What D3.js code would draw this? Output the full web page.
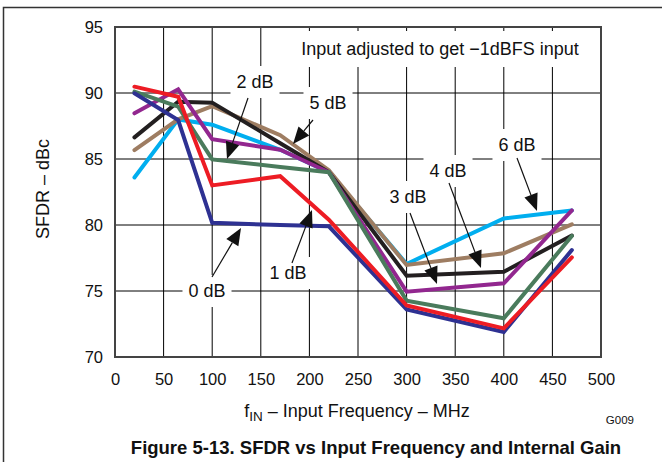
<!DOCTYPE html>
<html><head><meta charset="utf-8">
<script src="https://cdn.jsdelivr.net/npm/d3@7"></script>
<style>body{margin:0;background:#fff}svg{display:block;font-family:"Liberation Sans",Arial,Helvetica,sans-serif}</style>
</head><body><svg id="c" width="662" height="462"></svg>
<script>
// ---- data ----
const freqs = [20, 65, 100, 170, 220, 300, 400, 470];
const gain0 = [89.98, 87.95, 80.17, 80.0, 79.9, 73.6, 71.9, 78.1];
const gain1 = [90.48, 89.72, 83.0, 83.7, 80.4, 73.9, 72.17, 77.55];
const gain2 = [90.1, 88.96, 84.97, 84.4, 84.0, 74.27, 72.93, 79.17];
const gain3 = [88.46, 90.28, 86.5, 85.7, 84.0, 74.95, 75.58, 81.1];
const gain4 = [86.64, 89.34, 89.27, 86.2, 84.0, 76.16, 76.46, 79.2];
const gain5 = [85.68, 88.0, 89.0, 86.8, 84.15, 76.97, 77.86, 80.05];
const gain6 = [83.6, 88.0, 87.6, 85.7, 84.0, 77.05, 80.5, 81.1];
const xTicks = [0, 50, 100, 150, 200, 250, 300, 350, 400, 450, 500];
const yTicks = [70, 75, 80, 85, 90, 95];
const seriesNames = ["0 dB", "1 dB", "2 dB", "3 dB", "4 dB", "5 dB", "6 dB"];

const series = [
  {name: "6 dB", v: gain6, c: "#00AEEF"},
  {name: "5 dB", v: gain5, c: "#9E7D62"},
  {name: "4 dB", v: gain4, c: "#231F20"},
  {name: "3 dB", v: gain3, c: "#92278F"},
  {name: "2 dB", v: gain2, c: "#4A7B5C"},
  {name: "0 dB", v: gain0, c: "#2E3192"},
  {name: "1 dB", v: gain1, c: "#ED1C24"}
];

const svg = d3.select("#c");
const L = 115, R = 601, T = 27, B = 357;
const x = d3.scaleLinear().domain([0, 500]).range([L, R]);
const y = d3.scaleLinear().domain([70, 95]).range([B, T]);

// outer frame
svg.append("path").attr("d", "M3.5,462 V7.5 H662").attr("fill", "none").attr("stroke", "#333").attr("stroke-width", 1.5);

// grid
const grid = svg.append("g");
grid.selectAll("line.v").data(xTicks.slice(1, -1)).join("line")
  .attr("x1", d => x(d)).attr("x2", d => x(d)).attr("y1", T).attr("y2", B)
  .attr("stroke", "#000").attr("stroke-width", 1);
grid.selectAll("line.h").data(yTicks.slice(1, -1)).join("line")
  .attr("x1", L).attr("x2", R).attr("y1", d => y(d)).attr("y2", d => y(d))
  .attr("stroke", "#000").attr("stroke-width", 1);

// axes (labels only)
const xa = svg.append("g").attr("transform", `translate(0,${B})`)
  .call(d3.axisBottom(x).tickValues(xTicks).tickSize(0).tickPadding(16));
const ya = svg.append("g").attr("transform", `translate(${L},0)`)
  .call(d3.axisLeft(y).tickValues(yTicks).tickSize(0).tickPadding(12));
[xa, ya].forEach(a => {
  a.select(".domain").remove();
  a.selectAll("text").attr("font-size", 16.5).attr("fill", "#111").attr("font-family", "Liberation Sans, Arial, sans-serif");
});

// annotation labels with white boxes
const labels = [
  {t: "Input adjusted to get \u22121dBFS input", x: 440, y: 49, pad: [8, 8]},
  {t: "2 dB", x: 255, y: 82}, {t: "5 dB", x: 328, y: 103},
  {t: "0 dB", x: 207, y: 291}, {t: "1 dB", x: 288, y: 273},
  {t: "3 dB", x: 408, y: 197}, {t: "4 dB", x: 448, y: 171},
  {t: "6 dB", x: 517, y: 145}
];
const boxG = svg.append("g");

// data lines
const line = d3.line().x((d, i) => x(freqs[i])).y(d => y(d));
const lineG = svg.append("g");
series.forEach(s => {
  lineG.append("path").datum(s.v).attr("d", line).attr("fill", "none")
    .attr("stroke", s.c).attr("stroke-width", 4).attr("stroke-linejoin", "miter").attr("stroke-linecap", "round");
});

// plot border
svg.append("rect").attr("x", L).attr("y", T).attr("width", R - L).attr("height", B - T)
  .attr("fill", "none").attr("stroke", "#444").attr("stroke-width", 2);

// arrows
const arrows = [
  [248, 98, 227, 159], [313, 120, 293, 144], [212, 277, 241, 228], [292, 263, 312, 210],
  [410, 213, 437, 284], [449, 183, 481, 268], [517, 158, 537, 211]
];
const arrG = svg.append("g");
arrows.forEach(([x1, y1, x2, y2]) => {
  const a = Math.atan2(y2 - y1, x2 - x1), len = 17, w = 7;
  const bx = x2 - len * Math.cos(a), by = y2 - len * Math.sin(a);
  arrG.append("line").attr("x1", x1).attr("y1", y1).attr("x2", bx).attr("y2", by)
    .attr("stroke", "#111").attr("stroke-width", 1.2);
  const px = -Math.sin(a) * w, py = Math.cos(a) * w;
  arrG.append("path").attr("d", `M${x2},${y2} L${bx + px},${by + py} L${bx - px},${by - py} Z`).attr("fill", "#111");
});

labels.forEach(l => {
  const t = svg.append("text").attr("x", l.x).attr("y", l.y).attr("text-anchor", "middle")
    .attr("dominant-baseline", "central").attr("font-size", 18).attr("fill", "#111").text(l.t);
  const bb = t.node().getBBox();
  const p = l.pad || [6, 6];
  boxG.append("rect").attr("x", bb.x - p[1]).attr("y", bb.y - p[0]).attr("width", bb.width + 2 * p[1])
    .attr("height", bb.height + 2 * p[0]).attr("fill", "#fff");
});

// axis titles
svg.append("text").attr("transform", "translate(43,189) rotate(-90)").attr("text-anchor", "middle")
  .attr("dominant-baseline", "central").attr("font-size", 18).attr("fill", "#111").text("SFDR \u2013 dBc");
const xt = svg.append("text").attr("x", 357).attr("y", 417).attr("text-anchor", "middle").attr("font-size", 18).attr("fill", "#111");
xt.append("tspan").text("f");
xt.append("tspan").attr("font-size", 13.5).attr("dy", 4).text("IN");
xt.append("tspan").attr("dy", -4).text(" \u2013 Input Frequency \u2013 MHz");
svg.append("text").attr("x", 634).attr("y", 424).attr("text-anchor", "end").attr("font-size", 11.5).attr("fill", "#111").text("G009");
svg.append("text").attr("x", 376).attr("y", 454).attr("text-anchor", "middle").attr("font-size", 18.5)
  .attr("font-weight", "bold").attr("fill", "#111").text("Figure 5-13. SFDR vs Input Frequency and Internal Gain");
</script></body></html>
